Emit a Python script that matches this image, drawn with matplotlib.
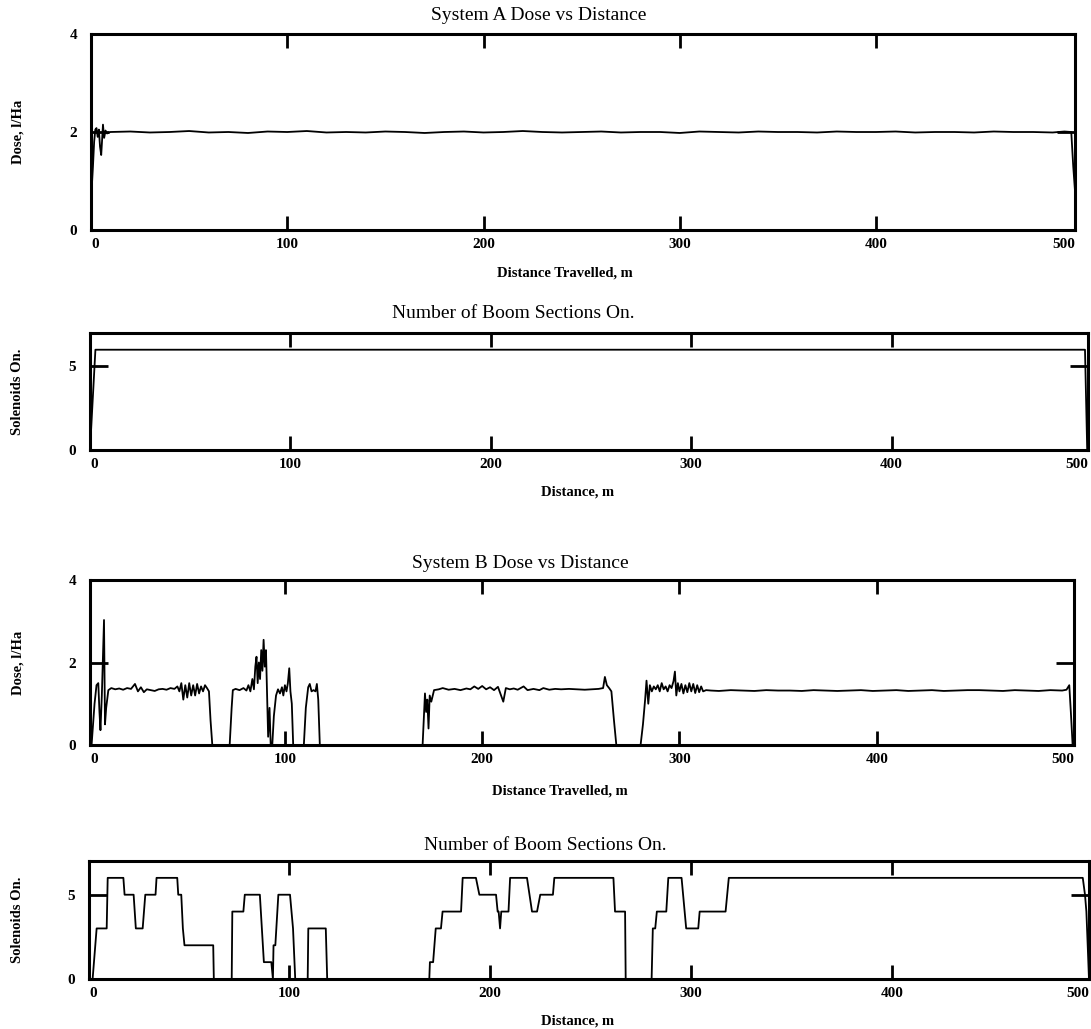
import matplotlib
matplotlib.use("Agg")
import matplotlib.pyplot as plt

# System A: sprayed dose (l/Ha) against distance travelled (m)
a_dist = [0, 0.5, 1.0, 1.6, 2.2, 2.8, 3.4, 4.0, 4.6, 5.2, 5.6, 6.1, 6.7, 7.4, 8.2, 9.8,
          20, 30, 40, 50, 60, 70, 80, 90, 100, 110, 120, 130, 140, 150, 160, 170, 180,
          190, 200, 210, 220, 230, 240, 250, 260, 270, 280, 290, 300, 310, 320, 330,
          340, 350, 360, 370, 380, 390, 400, 410, 420, 430, 440, 450, 460, 470, 480,
          490, 496, 499.5, 500.5, 501.4]
a_dose = [0.78, 0.95, 1.3, 1.8, 2.05, 2.08, 1.9, 2.05, 1.7, 1.53, 1.8, 2.15, 1.88, 2.03, 1.97, 2.0,
          2.01, 1.99, 2.0, 2.02, 1.99, 2.0, 1.98, 2.01, 2.0, 2.02, 1.99, 2.0, 1.99, 2.01,
          2.0, 1.98, 2.0, 2.01, 1.99, 2.0, 2.02, 2.0, 1.99, 2.0, 2.01, 1.99, 2.0, 2.0,
          1.98, 2.01, 2.0, 1.99, 2.01, 2.0, 2.0, 1.99, 2.01, 2.0, 2.0, 2.01, 1.99, 2.0,
          2.0, 1.99, 2.01, 2.0, 2.0, 1.99, 2.01, 2.0, 1.3, 0.8]

# System A: number of boom sections switched on
a_sec_dist = [0, 2.7, 496.5, 497.6]
a_sections = [0, 6, 6, 0]

# System B: sprayed dose (l/Ha), one pair of lists per spraying run
b_run1_dist = [1.0, 2.0, 3.5, 4.5, 5.4, 6.0, 6.5, 7.2, 8.0, 8.3, 8.8, 9.4, 10.5, 12, 14, 16, 18,
               20, 22, 24, 25.5, 27, 28.5, 30, 32, 34, 36, 38, 40, 42, 44, 45.5, 46.5, 47.5,
               48.5, 49.5, 50.5, 51.5, 52.5, 53.5, 54.5, 55.5, 56.5, 57.5, 58.5, 59.5, 60.5,
               61.5, 62.3, 63.2]
b_run1_dose = [0.0, 0.0, 1.0, 1.45, 1.5, 0.8, 0.36, 1.2, 2.6, 3.03, 0.5, 0.9, 1.33, 1.38, 1.35,
               1.37, 1.34, 1.38, 1.36, 1.48, 1.3, 1.4, 1.28, 1.35, 1.33, 1.31, 1.35, 1.36, 1.34,
               1.38, 1.36, 1.42, 1.3, 1.5, 1.1, 1.45, 1.15, 1.5, 1.2, 1.45, 1.2, 1.48, 1.25,
               1.42, 1.3, 1.45, 1.38, 1.3, 0.6, 0.0]
b_run2_dist = [72.0, 73.0, 73.6, 75, 77, 79, 80.5, 81.5, 82.5, 83.5, 84.3, 85.0, 85.6, 86.2,
               86.8, 87.4, 88.0, 88.6, 89.2, 89.8, 90.4, 91.0, 91.5, 92.2, 92.8, 93.6, 94.4,
               95.5, 96.5, 97.5, 98.5, 99.2, 100.0, 100.8, 101.5, 102.2, 102.8, 103.5, 104.2]
b_run2_dose = [0.0, 0.9, 1.33, 1.36, 1.33, 1.38, 1.32, 1.45, 1.3, 1.6, 1.35, 1.9, 2.14, 1.5,
               2.0, 1.6, 2.3, 1.8, 2.55, 1.9, 2.3, 1.2, 0.2, 0.9, 0.0, 0.0, 0.7,
               1.2, 1.35, 1.25, 1.4, 1.2, 1.45, 1.3, 1.5, 1.86, 1.3, 1.0, 0.0]
b_run3_dist = [109.6, 110.6, 111.8, 112.6, 113.5, 114.5, 115.5, 116.2, 116.9, 117.7]
b_run3_dose = [0.0, 0.9, 1.4, 1.48, 1.3, 1.33, 1.3, 1.48, 1.1, 0.0]
b_run4_dist = [169.8, 171.0, 171.6, 172.2, 172.8, 173.4, 174.2, 175.6, 178, 180, 183, 186, 189,
               192, 194, 196, 198, 200, 202, 204, 206, 208, 210.7, 212, 214, 216, 218, 221,
               223, 226, 229, 231, 234, 237, 240, 244, 248, 252, 256, 259, 261.3, 262.2,
               263.2, 264.5, 265.5, 266.8, 268.0]
b_run4_dose = [0.0, 1.25, 0.8, 1.1, 0.4, 1.2, 1.05, 1.33, 1.35, 1.38, 1.34, 1.36, 1.33,
               1.37, 1.35, 1.42, 1.36, 1.43, 1.35, 1.4, 1.33, 1.41, 1.05, 1.38, 1.35, 1.37, 1.34, 1.42,
               1.33, 1.36, 1.33, 1.38, 1.34, 1.36, 1.35, 1.36, 1.35, 1.34, 1.35, 1.36, 1.38, 1.65,
               1.45, 1.37, 1.3, 0.6, 0.0]
b_run5_dist = [280.3, 281.5, 282.6, 283.3, 284.2, 285.0, 286, 287, 288, 289, 290, 291, 292,
               293, 294, 295, 296, 297.0, 297.7, 298.4, 299.2, 300, 301, 302, 303, 304, 305,
               306, 307, 308, 309, 310, 311, 312, 313.5, 316, 320, 326, 332, 338, 344, 350,
               356, 362, 368, 374, 380, 386, 392, 398, 404, 410, 416, 422, 428, 434, 440, 446,
               452, 458, 464, 470, 476, 482, 488, 494, 496.2, 497.6, 498.4, 499.3]
b_run5_dose = [0.0, 0.5, 1.1, 1.56, 1.0, 1.45, 1.3, 1.42, 1.35, 1.45, 1.3, 1.5, 1.35,
               1.42, 1.3, 1.45, 1.38, 1.55, 1.78, 1.2, 1.5, 1.3, 1.48, 1.25, 1.45, 1.28, 1.5,
               1.3, 1.48, 1.26, 1.45, 1.28, 1.42, 1.3, 1.33, 1.32, 1.31, 1.33, 1.32, 1.31, 1.33,
               1.32, 1.32, 1.31, 1.33, 1.32, 1.31, 1.32, 1.33, 1.31, 1.32, 1.33, 1.31, 1.32, 1.33,
               1.31, 1.32, 1.33, 1.33, 1.32, 1.31, 1.33, 1.32, 1.31, 1.33, 1.32, 1.34, 1.45, 0.8, 0.0]

b_dist = b_run1_dist + b_run2_dist + b_run3_dist + b_run4_dist + b_run5_dist
b_dose = b_run1_dose + b_run2_dose + b_run3_dose + b_run4_dose + b_run5_dose

# System B: number of boom sections switched on
b_sec_dist = [2.3, 4.3, 9.3, 9.8, 17.6, 18.2, 22.7, 23.8, 27.2, 28.5, 33.6, 34.1, 44.4, 44.9,
              46.4, 47.2, 48.0, 62.3, 62.6, 71.5, 71.8, 77.3, 78.0, 85.5, 86.5, 87.5, 91.2,
              92.0, 92.3, 93.2, 94.7, 100.5, 102.0, 103.1, 109.3, 109.6, 118.3, 119.0,
              169.8, 170.1, 171.7, 173.0, 175.6, 176.4, 185.6, 186.4, 193.0, 194.7, 203.0,
              203.8, 204.3, 205.0, 205.6, 209.2, 210.0, 218.4, 220.9, 223.4, 225.0, 231.3,
              232.0, 261.4, 262.2, 267.2, 267.5, 280.4, 281.0, 282.2, 283.0, 287.7, 288.7,
              295.3, 297.6, 303.6, 304.3, 317.2, 318.8, 494.9, 496.0, 496.7, 498.0]
b_sections = [0, 3, 3, 6, 6, 5, 5, 3, 3, 5, 5, 6, 6, 5,
              5, 3, 2, 2, 0, 0, 4, 4, 5, 5, 3, 1, 1,
              0, 2, 2, 5, 5, 3, 0, 0, 3, 3, 0,
              0, 1, 1, 3, 3, 4, 4, 6, 6, 5, 5,
              4, 4, 3, 4, 4, 6, 6, 4, 4, 5, 5,
              6, 6, 4, 4, 0, 0, 3, 3, 4, 4, 6,
              6, 3, 3, 4, 4, 6, 6, 5, 4, 0]

x_tick_values = [0, 100, 200, 300, 400, 500]
x_tick_labels = ["0", "100", "200", "300", "400", "500"]

W, H = 1091, 1029
fig = plt.figure(figsize=(W / 100, H / 100), dpi=100)
fig.patch.set_facecolor("white")

serif = ["Liberation Serif", "DejaVu Serif"]


def panel(box, xlim, ylim, yticks, dist, vals, title, title_xy, xlabel, xlabel_xy, ylabel):
    left, right, top, bottom = box
    ax = fig.add_axes([left / W, 1 - bottom / H, (right - left) / W, (bottom - top) / H])
    ax.plot(dist, vals, color="black", lw=1.3, solid_joinstyle="round")
    ax.set_xlim(*xlim)
    ax.set_ylim(*ylim)
    for s in ax.spines.values():
        s.set_linewidth(2.2)

    # end labels sit at the axis edges, the inner ones on their ticks
    xt = [xlim[0]] + x_tick_values[1:-1] + [xlim[1]]
    ax.set_xticks(xt)
    ax.set_xticklabels(x_tick_labels, fontfamily=serif, fontweight="bold", fontsize=11)
    ax.set_yticks(yticks)
    ax.set_yticklabels([str(v) for v in yticks], fontfamily=serif, fontweight="bold", fontsize=11)
    ax.tick_params(axis="x", direction="in", top=True, bottom=True, length=10, width=2, pad=6)
    ax.tick_params(axis="y", direction="in", left=True, right=True, length=13, width=2, pad=10)
    ticks = ax.xaxis.get_major_ticks()
    ticks[0].label1.set_horizontalalignment("left")
    ticks[-1].label1.set_horizontalalignment("right")

    fig.text(title_xy[0] / W, 1 - title_xy[1] / H, title, ha="center", va="center",
             fontfamily=serif, fontsize=14)
    fig.text(xlabel_xy[0] / W, 1 - xlabel_xy[1] / H, xlabel, ha="center", va="center",
             fontfamily=serif, fontweight="bold", fontsize=10.5)
    fig.text(18 / W, 1 - (top + bottom) / 2 / H, ylabel, ha="center", va="center",
             rotation=90, fontfamily=serif, fontweight="bold", fontsize=10.5)
    return ax


panel((91, 1075, 34, 230), (0, 501.4), (0, 4), [0, 2, 4], a_dist, a_dose,
      "System A Dose vs Distance", (539, 15), "Distance Travelled, m", (565, 273), "Dose, l/Ha")
panel((90, 1088, 333, 450), (0, 498), (0, 7), [0, 5], a_sec_dist, a_sections,
      "Number of Boom Sections On.", (513, 314), "Distance, m", (578, 492), "Solenoids On.")
panel((90, 1074, 580, 745), (1.2, 500), (0, 4), [0, 2, 4], b_dist, b_dose,
      "System B Dose vs Distance", (520, 563), "Distance Travelled, m", (560, 791), "Dose, l/Ha")
panel((89, 1089, 861, 979), (0.5, 498), (0, 7), [0, 5], b_sec_dist, b_sections,
      "Number of Boom Sections On.", (545, 846), "Distance, m", (578, 1021), "Solenoids On.")

fig.savefig("out.png", dpi=100, facecolor="white")
